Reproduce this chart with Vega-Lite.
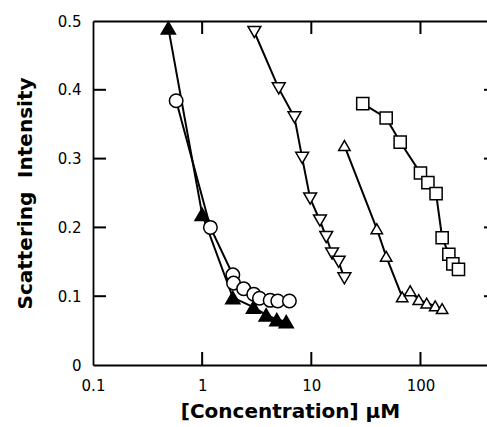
{
  "$schema": "https://vega.github.io/schema/vega-lite/v6.json",
  "width": 394,
  "height": 344,
  "autosize": {"type": "none"},
  "padding": {"left": 93, "top": 21, "right": 0, "bottom": 62},
  "config": {
    "view": {"stroke": null},
    "font": "DejaVu Sans",
    "axis": {
      "grid": false,
      "domainColor": "black",
      "domainWidth": 1.8,
      "labelColor": "black",
      "labelFont": "DejaVu Sans",
      "labelFontSize": 15,
      "titleColor": "black",
      "titleFont": "DejaVu Sans",
      "titleFontSize": 20,
      "titleFontWeight": "bold"
    }
  },
  "datasets": {
    "series": [
      {"s": "A", "x": 0.49, "y": 0.49},
      {"s": "A", "x": 1.0, "y": 0.219},
      {"s": "A", "x": 1.91, "y": 0.098},
      {"s": "A", "x": 2.95, "y": 0.084},
      {"s": "A", "x": 3.86, "y": 0.073},
      {"s": "A", "x": 4.83, "y": 0.066},
      {"s": "A", "x": 5.89, "y": 0.063},
      {"s": "B", "x": 0.578, "y": 0.384},
      {"s": "B", "x": 1.19, "y": 0.2},
      {"s": "B", "x": 1.91, "y": 0.131},
      {"s": "B", "x": 1.94, "y": 0.119},
      {"s": "B", "x": 2.4, "y": 0.111},
      {"s": "B", "x": 2.97, "y": 0.103},
      {"s": "B", "x": 3.35, "y": 0.097},
      {"s": "B", "x": 4.2, "y": 0.094},
      {"s": "B", "x": 4.93, "y": 0.093},
      {"s": "B", "x": 6.3, "y": 0.093},
      {"s": "C", "x": 3.01, "y": 0.484},
      {"s": "C", "x": 5.03, "y": 0.402},
      {"s": "C", "x": 7.01, "y": 0.36},
      {"s": "C", "x": 8.25, "y": 0.301},
      {"s": "C", "x": 9.76, "y": 0.242},
      {"s": "C", "x": 12.0, "y": 0.21},
      {"s": "C", "x": 13.7, "y": 0.186},
      {"s": "C", "x": 15.5, "y": 0.162},
      {"s": "C", "x": 17.8, "y": 0.15},
      {"s": "C", "x": 20.1, "y": 0.126},
      {"s": "D", "x": 29.6, "y": 0.38},
      {"s": "D", "x": 48.5, "y": 0.359},
      {"s": "D", "x": 65.2, "y": 0.324},
      {"s": "D", "x": 100, "y": 0.279},
      {"s": "D", "x": 117, "y": 0.265},
      {"s": "D", "x": 139, "y": 0.249},
      {"s": "D", "x": 158, "y": 0.185},
      {"s": "D", "x": 182, "y": 0.161},
      {"s": "D", "x": 198, "y": 0.147},
      {"s": "D", "x": 223, "y": 0.139},
      {"s": "E", "x": 20.1, "y": 0.319},
      {"s": "E", "x": 39.8, "y": 0.198},
      {"s": "E", "x": 48.5, "y": 0.158},
      {"s": "E", "x": 68, "y": 0.099},
      {"s": "E", "x": 80.5, "y": 0.108},
      {"s": "E", "x": 96.5, "y": 0.095},
      {"s": "E", "x": 114, "y": 0.09},
      {"s": "E", "x": 136.5, "y": 0.086},
      {"s": "E", "x": 158, "y": 0.082}
    ],
    "frameticks": [
      {"side": "bottom", "x": 1, "y": 0},
      {"side": "bottom", "x": 10, "y": 0},
      {"side": "bottom", "x": 100, "y": 0},
      {"side": "top", "x": 1, "y": 0.5},
      {"side": "top", "x": 10, "y": 0.5},
      {"side": "top", "x": 100, "y": 0.5},
      {"side": "left", "x": 0.1, "y": 0.1},
      {"side": "left", "x": 0.1, "y": 0.2},
      {"side": "left", "x": 0.1, "y": 0.3},
      {"side": "left", "x": 0.1, "y": 0.4},
      {"side": "right", "x": 407, "y": 0.1},
      {"side": "right", "x": 407, "y": 0.2},
      {"side": "right", "x": 407, "y": 0.3},
      {"side": "right", "x": 407, "y": 0.4}
    ]
  },
  "layer": [
    {
      "data": {"name": "series"},
      "mark": {"type": "line", "color": "black", "strokeWidth": 2},
      "encoding": {
        "detail": {"field": "s", "type": "nominal"},
        "x": {
          "field": "x", "type": "quantitative",
          "scale": {"type": "log", "domain": [0.1, 407], "nice": false},
          "axis": {"orient": "bottom", "values": [0.1, 1, 10, 100], "format": "~g", "ticks": false, "labelPadding": 13, "title": "[Concentration] µM", "titlePadding": 8, "labelFlush": false}
        },
        "y": {
          "field": "y", "type": "quantitative",
          "scale": {"domain": [0, 0.5], "nice": false},
          "axis": {"orient": "left", "values": [0, 0.1, 0.2, 0.3, 0.4, 0.5], "format": "~g", "ticks": false, "labelPadding": 12, "title": "Scattering\u00a0\u00a0Intensity", "titlePadding": 22, "labelFlush": false}
        }
      }
    },
    {
      "data": {"name": "frameticks"},
      "mark": {"type": "point", "filled": false, "stroke": "black", "strokeWidth": 2, "strokeCap": "butt", "opacity": 1, "strokeOpacity": 1, "size": 169},
      "encoding": {
        "x": {
          "field": "x", "type": "quantitative",
          "scale": {"type": "log", "domain": [0.1, 407], "nice": false},
          "axis": {"orient": "top", "values": [1, 10, 100], "labels": false, "ticks": false, "grid": false, "domain": true, "title": null}
        },
        "y": {
          "field": "y", "type": "quantitative",
          "scale": {"domain": [0, 0.5], "nice": false},
          "axis": null
        },
        "shape": {"field": "side", "type": "nominal", "legend": null,
          "scale": {"domain": ["bottom", "top", "left", "right"], "range": ["M0,0L0,-2", "M0,0L0,2", "M0,0L2,0", "M0,0L-0.46,0"]}}
      }
    },
    {
      "data": {"name": "series"},
      "mark": {"type": "point", "filled": true, "stroke": "black", "strokeWidth": 1.5, "opacity": 1},
      "encoding": {
        "x": {
          "field": "x", "type": "quantitative",
          "scale": {"type": "log", "domain": [0.1, 407], "nice": false},
          "axis": null
        },
        "y": {
          "field": "y", "type": "quantitative",
          "scale": {"domain": [0, 0.5], "nice": false},
          "axis": null
        },
        "shape": {"field": "s", "type": "nominal", "legend": null,
          "scale": {"domain": ["A", "B", "C", "D", "E"], "range": ["triangle-up", "circle", "triangle-down", "square", "triangle-up"]}},
        "fill": {"field": "s", "type": "nominal", "legend": null,
          "scale": {"domain": ["A", "B", "C", "D", "E"], "range": ["black", "white", "white", "white", "white"]}},
        "size": {"field": "s", "type": "nominal", "legend": null,
          "scale": {"domain": ["A", "B", "C", "D", "E"], "range": [200, 130, 240, 165, 240]}}
      }
    }
  ],
  "resolve": {"axis": {"x": "independent", "y": "independent"}, "scale": {"shape": "independent"}}
}
